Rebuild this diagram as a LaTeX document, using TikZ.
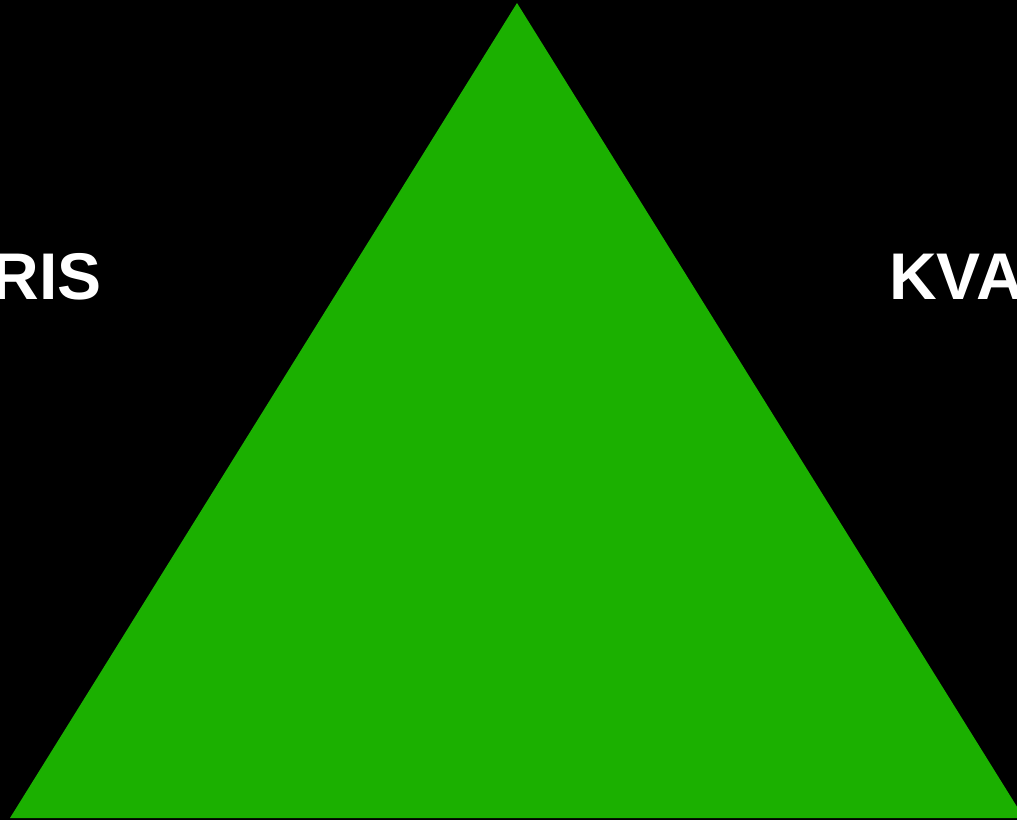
\documentclass[tikz,border=0pt]{standalone}
\usepackage{fontspec}
\setmainfont{Liberation Sans}
\definecolor{trigreen}{RGB}{27,176,0}
\tikzset{lbl/.style={text=white,inner sep=0pt,font=\fontsize{66}{66}\selectfont\bfseries}}
\begin{document}
\begin{tikzpicture}[x=1pt,y=1pt]
\useasboundingbox (0,0) rectangle (1017,820);
\clip (0,0) rectangle (1017,820);
\fill[black] (0,0) rectangle (1017,820);
\coordinate (apex) at (517,817);
\coordinate (bl) at (10,2);
\coordinate (br) at (1024,2);
\fill[trigreen] (apex) -- (bl) -- (br) -- cycle;
\node[lbl,anchor=base east] (ris) at (102,520) {RIS};
\node[lbl,anchor=base west] (kva) at (889,520) {KVA};
\end{tikzpicture}
\end{document}
